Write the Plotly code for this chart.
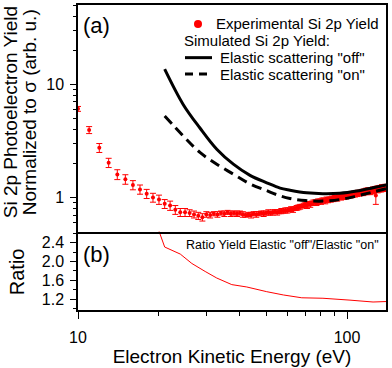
import plotly.graph_objects as go

# Experimental Si 2p yield (1 eV steps)
exp_energy = [
    10, 11, 12, 13, 14, 15, 16, 17, 18, 19,
    20, 21, 22, 23, 24, 25, 26, 27, 28, 29,
    30, 31, 32, 33, 34, 35, 36, 37, 38, 39,
    40, 41, 42, 43, 44, 45, 46, 47, 48, 49,
    50, 51, 52, 53, 54, 55, 56, 57, 58, 59,
    60, 61, 62, 63, 64, 65, 66, 67, 68, 69,
    70, 71, 72, 73, 74, 75, 76, 77, 78, 79,
    80, 81, 82, 83, 84, 85, 86, 87, 88, 89,
    90, 91, 92, 93, 94, 95, 96, 97, 98, 99,
    100, 101, 102, 103, 104, 105, 106, 107, 108, 109,
    110, 111, 112, 113, 114, 115, 116, 117, 118, 119,
    120, 121, 122, 123, 124, 125, 126, 127, 128, 129,
    130, 131, 132, 133, 134, 135, 136, 137, 138, 139,
    140,
]
exp_yield = [
    6.07, 3.95, 2.75, 2.03, 1.60, 1.45, 1.29, 1.18, 1.08, 1.00,
    0.96, 0.88, 0.85, 0.78, 0.74, 0.74, 0.73, 0.71, 0.69, 0.67,
    0.71, 0.70, 0.72, 0.71, 0.73, 0.72, 0.74, 0.72, 0.73, 0.72,
    0.73, 0.71, 0.70, 0.71, 0.70, 0.72, 0.71, 0.72, 0.73, 0.72,
    0.73, 0.74, 0.73, 0.74, 0.75, 0.74, 0.75, 0.76, 0.76, 0.77,
    0.77, 0.78, 0.79, 0.78, 0.80, 0.81, 0.82, 0.83, 0.84, 0.85,
    0.86, 0.85, 0.88, 0.87, 0.89, 0.90, 0.91, 0.90, 0.92, 0.93,
    0.92, 0.94, 0.95, 0.93, 0.96, 0.95, 0.97, 0.96, 0.98, 0.97,
    0.99, 1.00, 0.98, 1.01, 1.02, 1.00, 1.03, 1.02, 1.04, 1.03,
    1.05, 1.04, 1.06, 1.05, 1.07, 1.06, 1.08, 1.07, 1.09, 1.08,
    1.10, 1.09, 1.11, 1.10, 1.12, 1.11, 1.13, 1.12, 1.14, 1.12,
    1.15, 1.14, 1.13, 1.16, 1.15, 1.17, 1.14, 1.18, 1.04, 1.19,
    1.17, 1.20, 1.18, 1.21, 1.19, 1.22, 1.20, 1.23, 1.21, 1.24,
    1.23,
]
exp_error = [
    0.30, 0.28, 0.25, 0.19, 0.16, 0.14, 0.12, 0.11, 0.10, 0.09,
    0.09, 0.08, 0.08, 0.07, 0.06, 0.06, 0.05, 0.05, 0.05, 0.05,
    0.04, 0.04, 0.03, 0.04, 0.03, 0.04, 0.03, 0.04, 0.03, 0.04,
    0.03, 0.04, 0.03, 0.03, 0.04, 0.03, 0.04, 0.03, 0.03, 0.04,
    0.03, 0.04, 0.03, 0.04, 0.03, 0.04, 0.03, 0.04, 0.03, 0.04,
    0.04, 0.03, 0.04, 0.04, 0.03, 0.04, 0.04, 0.04, 0.03, 0.04,
    0.04, 0.05, 0.04, 0.05, 0.04, 0.05, 0.04, 0.05, 0.05, 0.04,
    0.05, 0.05, 0.04, 0.05, 0.05, 0.05, 0.04, 0.05, 0.05, 0.05,
    0.05, 0.04, 0.05, 0.05, 0.06, 0.05, 0.05, 0.06, 0.05, 0.06,
    0.05, 0.06, 0.05, 0.06, 0.06, 0.05, 0.06, 0.06, 0.05, 0.06,
    0.06, 0.06, 0.05, 0.06, 0.06, 0.07, 0.06, 0.06, 0.07, 0.06,
    0.07, 0.06, 0.07, 0.06, 0.07, 0.07, 0.06, 0.07, 0.17, 0.07,
    0.07, 0.07, 0.06, 0.07, 0.07, 0.08, 0.07, 0.07, 0.08, 0.07,
    0.07,
]

# Simulated yields
sim_off_energy = [21, 24.6, 28.4, 32.8, 37.8, 43.6, 50.3, 56.4, 61.4, 70.8, 81.4, 94.1, 108.6, 125, 140]
sim_off_yield = [13.6, 6.64, 4.11, 2.67, 1.97, 1.57, 1.35, 1.21, 1.16, 1.10, 1.08, 1.09, 1.14, 1.22, 1.29]
sim_on_energy = [21, 24.6, 28.4, 32.8, 37.8, 43.6, 50.3, 56, 61.4, 70, 81.4, 94.1, 108.6, 125, 140]
sim_on_yield = [5.24, 3.5, 2.5, 1.97, 1.61, 1.32, 1.15, 1.04, 0.98, 0.94, 0.93, 0.96, 1.03, 1.12, 1.20]

# Ratio off/on
ratio_energy = [20, 21, 24, 26.5, 29.7, 32.8, 37.3, 42.4, 50.3, 58, 67.9, 81.4, 102.6, 125, 140]
ratio_value = [2.65, 2.31, 2.16, 1.96, 1.79, 1.65, 1.51, 1.46, 1.36, 1.29, 1.23, 1.22, 1.18, 1.14, 1.15]

RED = "#ff0000"
FONT = "Liberation Sans"
W, H = 392, 368
L, R, T, B = 78, 6, 3, 58
PW, PH = W - L - R, H - T - B
SPLIT = 79 / PH  # lower panel height fraction


def px(x):
    return (x - L) / PW


def py(y):
    return (H - B - y) / PH


fig = go.Figure()

fig.add_trace(
    go.Scatter(
        x=exp_energy,
        y=exp_yield,
        mode="markers",
        marker=dict(color=RED, size=4),
        error_y=dict(type="data", array=exp_error, color=RED, thickness=1, width=3),
        xaxis="x2",
        yaxis="y2",
        showlegend=False,
    )
)
fig.add_trace(
    go.Scatter(
        x=sim_off_energy,
        y=sim_off_yield,
        mode="lines",
        line=dict(color="black", width=3, shape="spline"),
        xaxis="x2",
        yaxis="y2",
        showlegend=False,
    )
)
fig.add_trace(
    go.Scatter(
        x=sim_on_energy,
        y=sim_on_yield,
        mode="lines",
        line=dict(color="black", width=3, dash="10px,6px", shape="spline"),
        xaxis="x2",
        yaxis="y2",
        showlegend=False,
    )
)
fig.add_trace(
    go.Scatter(
        x=ratio_energy,
        y=ratio_value,
        mode="lines",
        line=dict(color=RED, width=1),
        showlegend=False,
    )
)

axis_common = dict(
    showline=True,
    linecolor="black",
    linewidth=1.5,
    showgrid=False,
    zeroline=False,
    tickfont=dict(size=16, color="black"),
)

fig.update_layout(
    width=W,
    height=H,
    margin=dict(l=L, r=R, t=T, b=B),
    paper_bgcolor="white",
    plot_bgcolor="white",
    font=dict(family=FONT, color="black"),
    xaxis=dict(
        **axis_common,
        mirror=False,
        type="log",
        range=[1, 2.145],
        dtick=1,
        ticks="outside",
        ticklen=7,
        tickcolor="black",
        ticklabelstandoff=5,
        minor=dict(ticks="outside", ticklen=4, dtick="D1", tickcolor="black"),
        anchor="y",
        title=dict(text="Electron Kinetic Energy (eV)", font=dict(size=19), standoff=2),
    ),
    yaxis=dict(
        **axis_common,
        mirror=True,
        domain=[0, SPLIT],
        range=[0.97, 2.64],
        tickvals=[1.2, 1.6, 2.0, 2.4],
        ticktext=["1.2", "1.6", "2.0", "2.4"],
        ticks="outside",
        ticklen=6,
        tickcolor="black",
        ticklabelstandoff=3,
        minor=dict(ticks="outside", ticklen=3, dtick=0.2, tick0=1.0, tickcolor="black"),
        anchor="x",
    ),
    xaxis2=dict(
        **axis_common,
        mirror=True,
        type="log",
        range=[1, 2.145],
        matches="x",
        showticklabels=False,
        ticks="",
        anchor="y2",
    ),
    yaxis2=dict(
        **axis_common,
        mirror=True,
        type="log",
        domain=[SPLIT, 1],
        range=[-0.3, 1.7],
        dtick=1,
        ticks="outside",
        ticklen=6,
        tickcolor="black",
        ticklabelstandoff=3,
        minor=dict(ticks="outside", ticklen=3, dtick="D1", tickcolor="black"),
        anchor="x2",
    ),
)

annotations = [
    dict(text="Si 2p Photoelectron Yield", x=px(10), y=py(111), textangle=-90, font=dict(size=19)),
    dict(text="Normalized to σ (arb. u.)", x=px(29), y=py(111), textangle=-90, font=dict(size=19)),
    dict(text="Ratio", x=px(17), y=py(272), textangle=-90, font=dict(size=20)),
    dict(text="(a)", x=px(96), y=py(24), font=dict(size=22)),
    dict(text="(b)", x=px(96), y=py(254), font=dict(size=22)),
    dict(text='Ratio Yield Elastic "off"/Elastic "on"', x=px(381), y=py(245),
         xanchor="right", font=dict(size=12.5)),
    dict(text="Experimental Si 2p Yield", x=px(214), y=py(22), xanchor="left", font=dict(size=15)),
    dict(text="Simulated Si 2p Yield:", x=px(182), y=py(39), xanchor="left", font=dict(size=15)),
    dict(text='Elastic scattering "off"', x=px(218), y=py(56), xanchor="left", font=dict(size=15)),
    dict(text='Elastic scattering "on"', x=px(218), y=py(72.5), xanchor="left", font=dict(size=15)),
]
for a in annotations:
    a.setdefault("xanchor", "center")
    a.update(xref="paper", yref="paper", yanchor="middle", showarrow=False)
fig.update_layout(annotations=annotations)

fig.update_layout(
    shapes=[
        dict(type="circle", xref="paper", yref="paper", xsizemode="pixel", ysizemode="pixel",
             xanchor=px(198), yanchor=py(22), x0=-4, x1=4, y0=-4, y1=4,
             fillcolor=RED, line=dict(width=0)),
        dict(type="line", xref="paper", yref="paper", x0=px(185), x1=px(212),
             y0=py(56), y1=py(56), line=dict(color="black", width=3)),
        dict(type="line", xref="paper", yref="paper", x0=px(185), x1=px(212),
             y0=py(72.5), y1=py(72.5), line=dict(color="black", width=3, dash="8px,6px")),
    ]
)

fig.write_html(
    "out.html",
    config={"displayModeBar": False},
    post_script="document.body.style.margin='0';",
)
